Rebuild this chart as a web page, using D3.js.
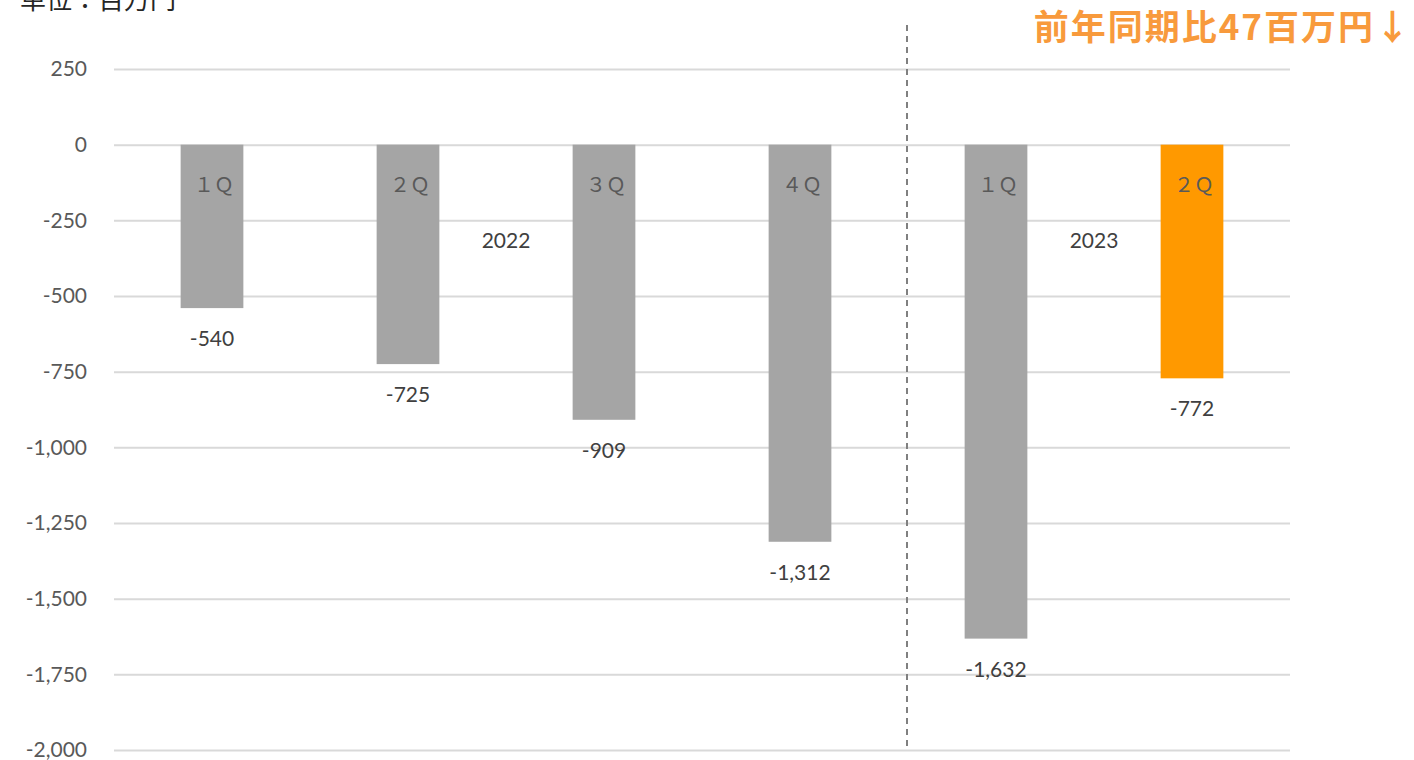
<!DOCTYPE html>
<html>
<head>
<meta charset="utf-8">
<script src="https://cdn.jsdelivr.net/npm/d3@7"></script>
<style>
  body { margin: 0; background: #fff; }
  svg { display: block; }
</style>
</head>
<body>
<div id="chart"></div>
<script>
let quarters = ["１Ｑ", "２Ｑ", "３Ｑ", "４Ｑ", "１Ｑ", "２Ｑ"],
  values = [-540, -725, -909, -1312, -1632, -772],
  years = ["2022", "2023"],
  yearSpans = [[0, 3], [4, 5]],
  yTicks = [250, 0, -250, -500, -750, -1000, -1250, -1500, -1750, -2000],
  unitLabel = "単位：百万円",
  noteLabel = "前年同期比47百万円↓";

let draw = () => {
  var width = 1414,
    height = 760,
    margin = { top: 69, right: 124, bottom: 10, left: 114 },
    plotW = width - margin.left - margin.right,
    plotH = 750 - margin.top;

  var fmt = d3.formatLocale({ decimal: ".", thousands: ",", grouping: [3], currency: ["", ""], minus: "-" }).format(",");

  var svg = d3
    .select("#chart")
    .append("svg")
    .attr("width", width)
    .attr("height", height);

  var g = svg
    .append("g")
    .attr("transform", `translate(${margin.left}, ${margin.top})`);

  var idx = values.map((d, i) => i);
  var Xaxis = d3.scaleBand().range([0, plotW]).domain(idx).paddingInner(0.68).paddingOuter(0.34),
    Yaxis = d3.scaleLinear().range([0, plotH]).domain([250, -2000]);

  // gridlines + tick labels
  g.append("g")
    .call(d3.axisLeft(Yaxis).tickValues(yTicks).tickSize(-plotW).tickPadding(27).tickFormat(fmt))
    .call((a) => a.select(".domain").remove())
    .call((a) =>
      a.selectAll(".tick line").attr("stroke", "#d9d9d9").attr("stroke-width", 2)
    )
    .call((a) =>
      a
        .selectAll(".tick text")
        .attr("fill", "#595959")
        .style("font-family", "Lato, 'Noto Sans', sans-serif")
        .style("font-size", "21px")
    );

  // bars
  g.selectAll(".bar")
    .data(values)
    .enter()
    .append("rect")
    .attr("class", "bar")
    .attr("x", (d, i) => Xaxis(i))
    .attr("y", Yaxis(0))
    .attr("width", Xaxis.bandwidth())
    .attr("height", (d) => Yaxis(d) - Yaxis(0))
    .attr("fill", (d, i) => (i === values.length - 1 ? "#ff9900" : "#a5a5a5"));

  // quarter labels inside bars
  g.selectAll(".qlabel")
    .data(quarters)
    .enter()
    .append("text")
    .attr("x", (d, i) => Xaxis(i) + Xaxis.bandwidth() / 2 + 2)
    .attr("y", Yaxis(0) + 47)
    .attr("text-anchor", "middle")
    .attr("fill", "#595959")
    .style("font-family", "'Noto Sans CJK JP', sans-serif")
    .style("font-size", "20px")
    .text((d) => d);

  // value labels
  g.selectAll(".vlabel")
    .data(values)
    .enter()
    .append("text")
    .attr("x", (d, i) => Xaxis(i) + Xaxis.bandwidth() / 2)
    .attr("y", (d) => Yaxis(d) + 38)
    .attr("text-anchor", "middle")
    .attr("fill", "#404040")
    .style("font-family", "Lato, 'Noto Sans', sans-serif")
    .style("font-size", "21px")
    .text((d) => fmt(d));

  // year labels
  g.selectAll(".ylabel")
    .data(years)
    .enter()
    .append("text")
    .attr("x", (d, i) => {
      var s = yearSpans[i];
      return (Xaxis(s[0]) + Xaxis(s[1]) + Xaxis.bandwidth()) / 2;
    })
    .attr("y", Yaxis(-312) + 9)
    .attr("text-anchor", "middle")
    .attr("fill", "#404040")
    .style("font-family", "Lato, 'Noto Sans', sans-serif")
    .style("font-size", "21px")
    .text((d) => d);

  // divider between years
  var divX = (Xaxis(3) + Xaxis.bandwidth() + Xaxis(4)) / 2 + 9;
  g.append("line")
    .attr("x1", divX)
    .attr("x2", divX)
    .attr("y1", -44)
    .attr("y2", plotH - 4)
    .attr("stroke", "#808080")
    .attr("stroke-width", 2)
    .attr("stroke-dasharray", "6,5");

  // unit + note
  svg
    .append("text")
    .attr("x", 20)
    .attr("y", 9)
    .attr("fill", "#262626")
    .style("font-family", "'Noto Sans CJK JP', sans-serif")
    .style("font-size", "26px")
    .text(unitLabel);

  svg
    .append("text")
    .attr("x", 1412)
    .attr("y", 40)
    .attr("text-anchor", "end")
    .attr("fill", "#f89a3c")
    .style("font-family", "'Noto Sans CJK JP', sans-serif")
    .style("font-size", "35px")
    .style("font-weight", "bold")
    .style("letter-spacing", "2px")
    .text(noteLabel);
};

draw();
</script>
</body>
</html>
